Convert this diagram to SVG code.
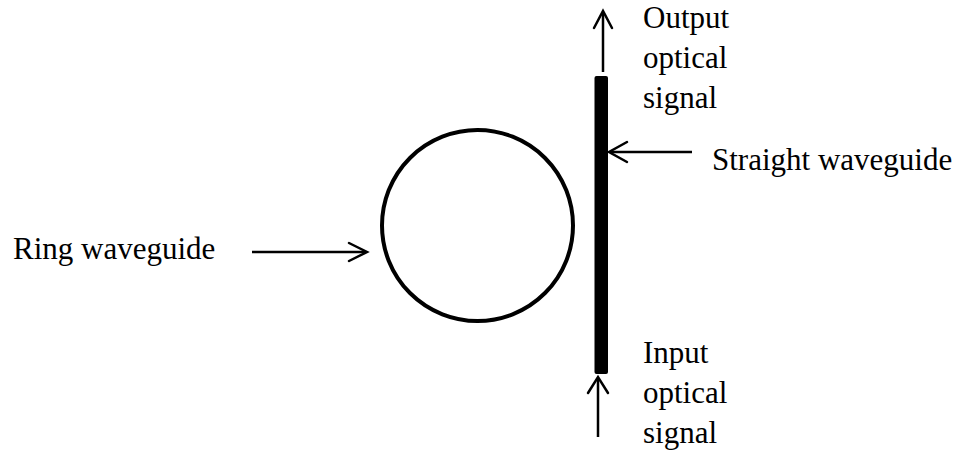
<svg xmlns="http://www.w3.org/2000/svg" width="964" height="456" viewBox="0 0 964 456">
<style>
text{font-family:"Liberation Serif","Times New Roman",serif;font-size:31px;fill:#000}
.ln{stroke:#000;stroke-width:2.5;fill:none}
.hd{stroke:#000;stroke-width:2.5;fill:none;stroke-linecap:round;stroke-linejoin:miter}
</style>
<rect width="964" height="456" fill="#fff"/>
<g id="ring">
<circle cx="477.5" cy="225.5" r="95.5" fill="none" stroke="#000" stroke-width="4"/>
</g>
<g id="straight">
<rect x="594.5" y="76" width="13.5" height="298" rx="2" fill="#000"/>
</g>
<g id="connectors">
<line class="ln" x1="603" y1="72" x2="603" y2="12"/>
<polyline class="hd" points="594,28 603,11 612,28"/>
<line class="ln" x1="598" y1="437" x2="598" y2="378"/>
<polyline class="hd" points="588,393 598,377 608,393"/>
<line class="ln" x1="692" y1="152" x2="610" y2="152"/>
<polyline class="hd" points="627,142 609,152 627,162"/>
<line class="ln" x1="252" y1="252" x2="365" y2="252"/>
<polyline class="hd" points="349,243 367,252 349,261"/>
</g>
<g id="labels">
<text x="643" y="28">Output</text>
<text x="643" y="68">optical</text>
<text x="643" y="108">signal</text>
<text x="712" y="170">Straight waveguide</text>
<text x="13" y="259">Ring waveguide</text>
<text x="643" y="363">Input</text>
<text x="643" y="403">optical</text>
<text x="643" y="443">signal</text>
</g>
</svg>
